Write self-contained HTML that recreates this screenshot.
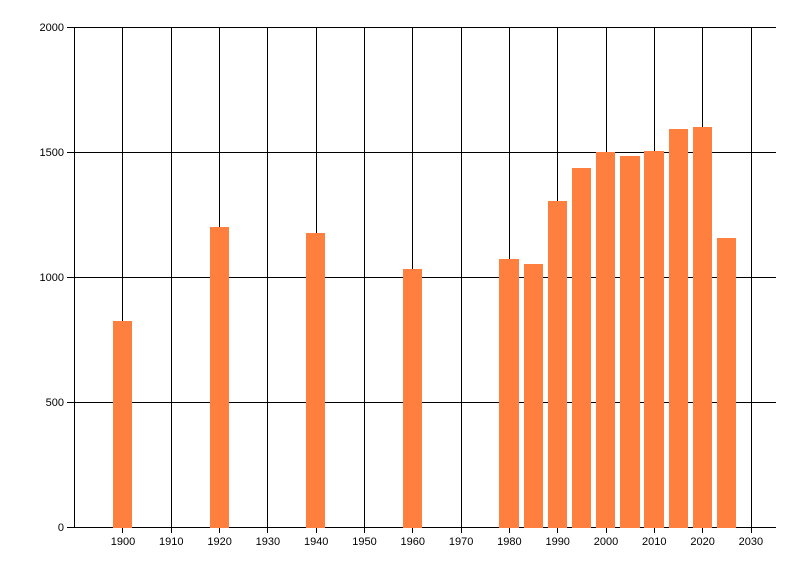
<!DOCTYPE html>
<html><head><style>body{margin:0;background:#fff}</style></head><body>
<svg width="800" height="576" xmlns="http://www.w3.org/2000/svg" font-family="Liberation Sans, sans-serif" font-size="11">
<rect width="800" height="576" fill="#fff"/>
<g stroke="#000" stroke-width="1">
<line x1="67" y1="27.5" x2="776" y2="27.5"/>
<line x1="67" y1="152.5" x2="776" y2="152.5"/>
<line x1="67" y1="277.5" x2="776" y2="277.5"/>
<line x1="67" y1="402.5" x2="776" y2="402.5"/>
<line x1="67" y1="527.5" x2="776" y2="527.5"/>
<line x1="74.5" y1="27" x2="74.5" y2="528"/>
<line x1="122.5" y1="27" x2="122.5" y2="533"/><line x1="171.5" y1="27" x2="171.5" y2="533"/><line x1="219.5" y1="27" x2="219.5" y2="533"/><line x1="267.5" y1="27" x2="267.5" y2="533"/><line x1="316.5" y1="27" x2="316.5" y2="533"/><line x1="364.5" y1="27" x2="364.5" y2="533"/><line x1="412.5" y1="27" x2="412.5" y2="533"/><line x1="461.5" y1="27" x2="461.5" y2="533"/><line x1="509.5" y1="27" x2="509.5" y2="533"/><line x1="557.5" y1="27" x2="557.5" y2="533"/><line x1="606.5" y1="27" x2="606.5" y2="533"/><line x1="654.5" y1="27" x2="654.5" y2="533"/><line x1="702.5" y1="27" x2="702.5" y2="533"/><line x1="751.5" y1="27" x2="751.5" y2="533"/>
</g>
<g fill="#ff7f3f">
<rect x="113" y="321" width="19" height="207"/>
<rect x="210" y="227" width="19" height="301"/>
<rect x="306" y="233" width="19" height="295"/>
<rect x="403" y="269" width="19" height="259"/>
<rect x="499" y="259" width="20" height="269"/>
<rect x="524" y="264" width="19" height="264"/>
<rect x="548" y="201" width="19" height="327"/>
<rect x="572" y="168" width="19" height="360"/>
<rect x="596" y="152" width="19" height="376"/>
<rect x="620" y="156" width="20" height="372"/>
<rect x="644" y="151" width="20" height="377"/>
<rect x="669" y="129" width="19" height="399"/>
<rect x="693" y="127" width="19" height="401"/>
<rect x="717" y="238" width="19" height="290"/>
</g>
<g text-anchor="end" fill="#000">
<text x="64" y="31">2000</text><text x="64" y="156">1500</text><text x="64" y="281">1000</text><text x="64" y="406">500</text><text x="64" y="531">0</text>
</g>
<g text-anchor="middle" fill="#000">
<text x="123" y="545">1900</text><text x="171.3" y="545">1910</text><text x="219.6" y="545">1920</text><text x="267.9" y="545">1930</text><text x="316.2" y="545">1940</text><text x="364.5" y="545">1950</text><text x="412.8" y="545">1960</text><text x="461.1" y="545">1970</text><text x="509.4" y="545">1980</text><text x="557.7" y="545">1990</text><text x="606" y="545">2000</text><text x="654.3" y="545">2010</text><text x="702.6" y="545">2020</text><text x="750.9" y="545">2030</text>
</g>
</svg>
</body></html>
